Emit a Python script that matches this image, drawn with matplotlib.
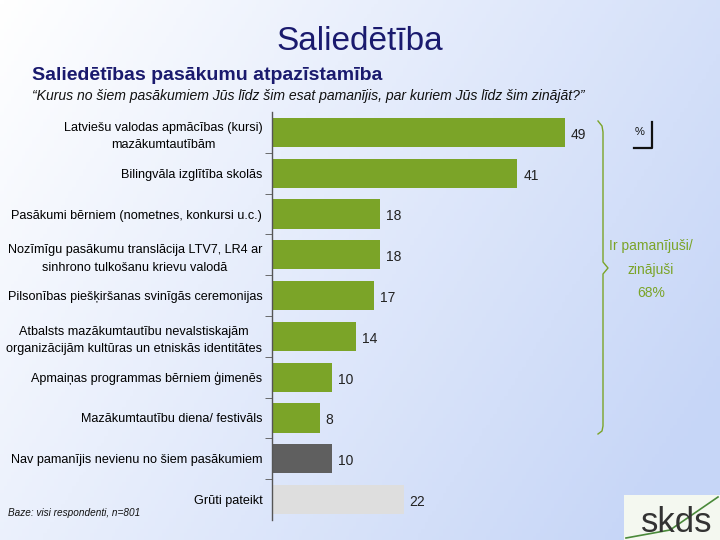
import numpy as np
import matplotlib
matplotlib.use("Agg")
import matplotlib.pyplot as plt
from matplotlib.lines import Line2D
from matplotlib.patches import Rectangle

categories = [
    "Latviešu valodas apmācības (kursi)\nmazākumtautībām",
    "Bilingvāla izglītība skolās",
    "Pasākumi bērniem (nometnes, konkursi u.c.)",
    "Nozīmīgu pasākumu translācija LTV7, LR4 ar\nsinhrono tulkošanu krievu valodā",
    "Pilsonības piešķiršanas svinīgās ceremonijas",
    "Atbalsts mazākumtautību nevalstiskajām\norganizācijām kultūras un etniskās identitātes",
    "Apmaiņas programmas bērniem ģimenēs",
    "Mazākumtautību diena/ festivāls",
    "Nav pamanījis nevienu no šiem pasākumiem",
    "Grūti pateikt",
]
values = [49, 41, 18, 18, 17, 14, 10, 8, 10, 22]
bar_colors = ["#7ba428"] * 8 + ["#5f5f5f", "#dedede"]

W, H = 720, 540
fig = plt.figure(figsize=(7.2, 5.4), dpi=100)

# background gradient
bg = fig.add_axes([0, 0, 1, 1], zorder=-10)
xx, yy = np.meshgrid(np.linspace(0, 1, 200), np.linspace(0, 1, 150))
t = np.clip(0.75 * xx + 0.35 * yy, 0, 1)
c0 = np.array([1.0, 1.0, 1.0])
c1 = np.array([0.78, 0.84, 0.97])
img = c0[None, None, :] * (1 - t[..., None]) + c1[None, None, :] * t[..., None]
bg.imshow(img, aspect="auto", extent=[0, 1, 0, 1], origin="upper")
bg.axis("off")

def fx(px):
    return px / W

def fy(py):
    return 1 - py / H

left_px, right_px = 272, 601
top_px, bot_px = 112, 520
ax = fig.add_axes([fx(left_px), fy(bot_px), (right_px - left_px) / W, (bot_px - top_px) / H])
ax.patch.set_alpha(0)
y = np.arange(len(categories))
ax.barh(y, values, height=0.72, color=bar_colors, zorder=2)
ax.set_xlim(0, (right_px - left_px) / 5.98)
ax.set_ylim(len(categories) - 0.5, -0.5)
for s in ["top", "right", "bottom"]:
    ax.spines[s].set_visible(False)
ax.spines["left"].set_color("#555555")
ax.spines["left"].set_linewidth(1.0)
ax.set_xticks([])
ax.set_yticks(y)
ax.set_yticklabels(categories, fontsize=9.1, family="Liberation Sans", ha="right", multialignment="center",
                   linespacing=1.6)
ax.tick_params(axis="y", length=0, pad=7)
ax.set_yticks(np.arange(0.5, len(categories) - 0.5, 1), minor=True)
ax.tick_params(axis="y", which="minor", length=5, color="#555555", direction="out")

for yi, v in zip(y, values):
    ax.text(v + 1.0, yi + 0.06, str(v), va="center", ha="left", fontsize=10, family="Liberation Sans", color="#222222")

# titles
fig.text(0.5, fy(41), "Saliedētība", ha="center", va="center", fontsize=24, color="#1a1a6e", family="Liberation Sans")
fig.text(fx(32), fy(75), "Saliedētības pasākumu atpazīstamība", ha="left", va="center", fontsize=14,
         fontweight="bold", color="#1a1a6e", family="Liberation Sans")
fig.text(fx(32), fy(96), "\u201cKurus no šiem pasākumiem Jūs līdz šim esat pamanījis, par kuriem Jūs līdz šim zinājāt?\u201d",
         ha="left", va="center", fontsize=10.1, style="italic", color="#111111", family="Liberation Sans")
fig.text(fx(8), fy(513), "Baze: visi respondenti, n=801", ha="left", va="center", fontsize=7.2,
         style="italic", color="#111111", family="Liberation Sans")

# brace
bx = [598, 602, 603, 603, 608, 603, 603, 602, 598]
by = [121, 126, 132, 262, 268, 274, 426, 431, 434]
fig.add_artist(Line2D([fx(v) for v in bx], [fy(v) for v in by], color="#7ba428", lw=1.0))
green = "#7ba428"
fig.text(fx(651), fy(246), "Ir pamanījuši/", ha="center", va="center", fontsize=10, color=green, family="Liberation Sans")
fig.text(fx(651), fy(270), "zinājuši", ha="center", va="center", fontsize=10, color=green, family="Liberation Sans")
fig.text(fx(651), fy(293), "68%", ha="center", va="center", fontsize=10, color=green, family="Liberation Sans")

# % marker
fig.text(fx(640), fy(132), "%", ha="center", va="center", fontsize=8, color="#111111", family="Liberation Sans")
fig.add_artist(Line2D([fx(634), fx(652), fx(652)], [fy(148), fy(148), fy(122)], color="#111111", lw=1.6))

# logo
fig.add_artist(Rectangle((fx(624), fy(540)), (720 - 624) / W, 45 / H, transform=fig.transFigure,
                         facecolor="#f4f8f0", edgecolor="none"))
fig.add_artist(Line2D([fx(626), fx(670), fx(718)], [fy(538), fy(530), fy(497)], color="#4a8a3a", lw=1.2))
fig.text(fx(677), fy(523), "skds", ha="center", va="center", fontsize=25, color="#333333", family="Liberation Sans")

fig.savefig("out.png", dpi=100)
